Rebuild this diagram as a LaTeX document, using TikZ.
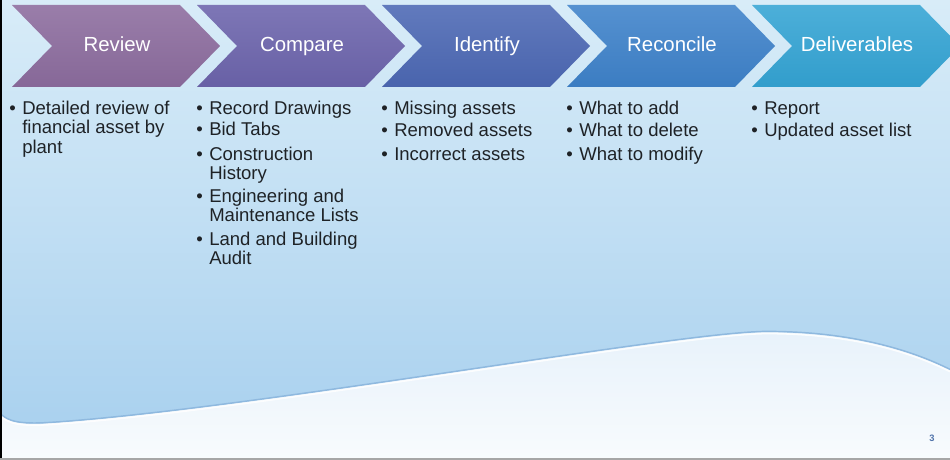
\documentclass[tikz,border=0pt]{standalone}
\usepackage{fontspec}
\setmainfont{Liberation Sans}
\begin{document}
\definecolor{bgtop}{HTML}{D8ECF8}
\definecolor{bgmid}{HTML}{C0DEF3}
\definecolor{bgbot}{HTML}{A6CFEE}
\definecolor{lowtop}{HTML}{E8F2FB}
\definecolor{lowbot}{HTML}{F8FBFD}
\definecolor{waveline}{HTML}{8FB9DF}
\definecolor{crev}{HTML}{8C6C9E}
\definecolor{ccmp}{HTML}{6C64AC}
\definecolor{cidf}{HTML}{4C68B4}
\definecolor{crec}{HTML}{3E82CA}
\definecolor{cdel}{HTML}{34A4D4}
\definecolor{txt}{HTML}{1E2226}
\newcommand\itemfont{\fontsize{13.9pt}{14.8pt}\selectfont}
\newcommand\titlefont{\fontsize{15.3pt}{18pt}\selectfont}
% outline of the wave separating the blue and the pale lower band
\newcommand\wavepath[1]{(0,414+#1) .. controls (8,422+#1) and (20,425+#1) .. (50,423+#1)
  .. controls (250,410+#1) and (680,332+#1) .. (767,332+#1)
  .. controls (850,332+#1) and (910,350+#1) .. (950,370+#1)}
\begin{tikzpicture}[x=0.75pt,y=-0.75pt,
  bul/.style={anchor=base west, inner sep=0pt, font=\itemfont, text=txt},
  itm/.style={anchor=base west, inner sep=0pt, font=\itemfont, text=txt},
  ttl/.style={anchor=base, inner sep=0pt, font=\titlefont, text=white}]
\useasboundingbox (0,0) rectangle (950,460);

% slide background
\shade[top color=bgtop, bottom color=bgbot, middle color=bgmid] (0,0) rectangle (950,460);

% pale lower band under the wave
\shade[top color=lowtop, bottom color=lowbot] \wavepath{0} -- (950,460) -- (0,460) -- cycle;
\draw[waveline, line width=1.1pt] \wavepath{-0.6};
\draw[white, line width=1.2pt, opacity=0.85] \wavepath{1.6};

% frame edges
\draw[black, line width=2.2pt] (1,0) -- (1,460);
\draw[gray!70, line width=1.5pt] (0,459) -- (950,459);

% process chevrons
\foreach \x/\n/\t/\c in {12/rev/Review/crev, 197/cmp/Compare/ccmp, 382/idf/Identify/cidf, 567/rec/Reconcile/crec, 752/del/Deliverables/cdel}{
  \shade[top color=\c!88!white, bottom color=\c!96!black]
    (\x,5) -- (\x+168,5) -- (\x+208,46) -- (\x+168,87) -- (\x,87) -- (\x+40,46) -- cycle;
  \node[ttl] (t-\n) at (\x+105,52) {\t};
}

% Review
\node[bul] (b1) at (9,114) {•};
\node[itm] (r1) at (22,114) {\parbox[t]{130pt}{Detailed review of\\financial asset by\\plant}};

% Compare
\node[bul] (b2) at (196,114) {•};
\node[itm] (c1) at (209,114) {Record Drawings};
\node[bul] (b3) at (196,136) {•};
\node[itm] (c2) at (209,136) {Bid Tabs};
\node[bul] (b4) at (196,160) {•};
\node[itm] (c3) at (209,160) {\parbox[t]{130pt}{Construction\\History}};
\node[bul] (b5) at (196,202) {•};
\node[itm] (c4) at (209,202) {\parbox[t]{130pt}{Engineering and\\Maintenance Lists}};
\node[bul] (b6) at (196,245) {•};
\node[itm] (c5) at (209,245) {\parbox[t]{130pt}{Land and Building\\Audit}};

% Identify
\node[bul] (b7) at (381,114) {•};
\node[itm] (i1) at (394,114) {Missing assets};
\node[bul] (b8) at (381,137) {•};
\node[itm] (i2) at (394,137) {Removed assets};
\node[bul] (b9) at (381,160) {•};
\node[itm] (i3) at (394,160) {Incorrect assets};

% Reconcile
\node[bul] (b10) at (566,114) {•};
\node[itm] (k1) at (579,114) {What to add};
\node[bul] (b11) at (566,137) {•};
\node[itm] (k2) at (579,137) {What to delete};
\node[bul] (b12) at (566,160) {•};
\node[itm] (k3) at (579,160) {What to modify};

% Deliverables
\node[bul] (b13) at (751,114) {•};
\node[itm] (d1) at (764,114) {Report};
\node[bul] (b14) at (751,137) {•};
\node[itm] (d2) at (764,137) {Updated asset list};

% page number
\node[inner sep=0pt, font=\fontsize{7pt}{8pt}\selectfont\bfseries, text={rgb,255:red,80;green,115;blue,170}] (pg) at (932,438) {3};
\end{tikzpicture}
\end{document}
